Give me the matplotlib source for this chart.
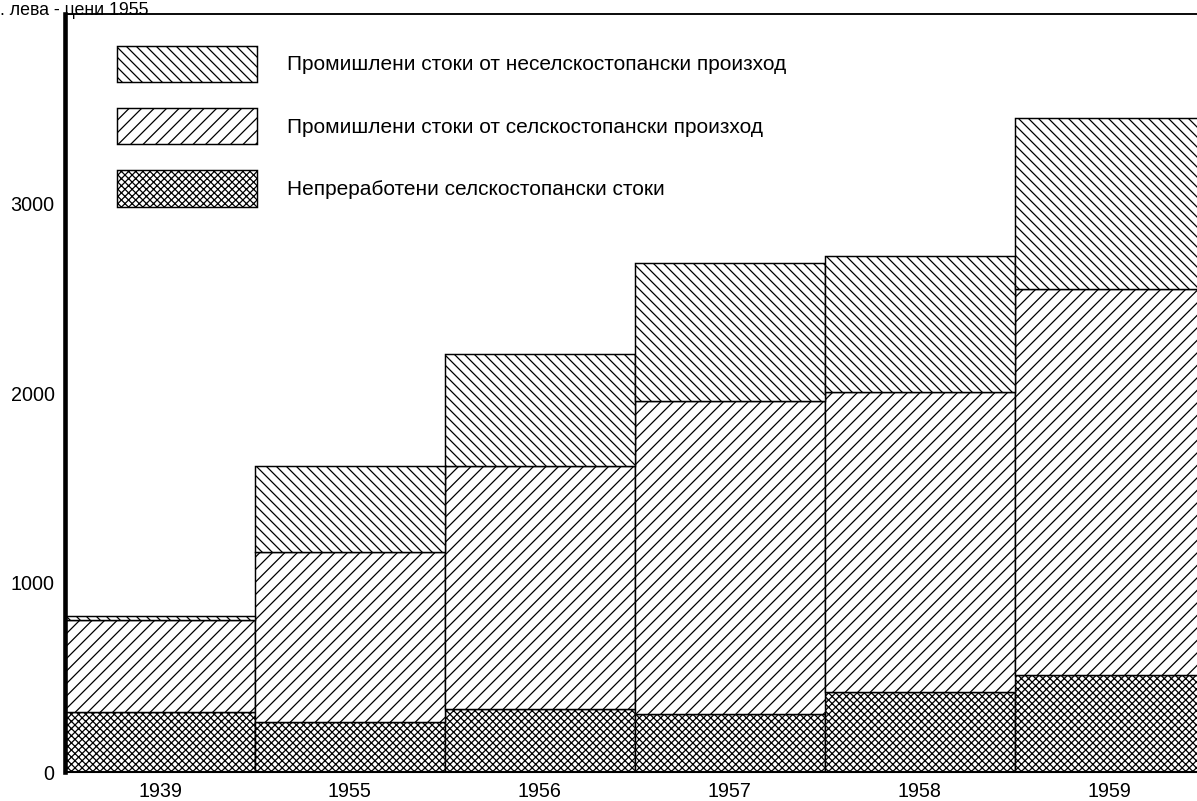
import numpy as np
import matplotlib
matplotlib.use('Agg')
from matplotlib import pyplot as plt

# data (млн. лева, цени 1955)
years = ['1939', '1955', '1956', '1957', '1958', '1959']
raw_agri = [315, 262, 330, 306, 420, 511]          # непреработени селскостопански стоки
ind_agri = [485, 898, 1283, 1651, 1587, 2040]      # промишлени от селскостопански произход
ind_nonagri = [25, 453, 595, 731, 715, 902]        # промишлени от неселскостопански произход

labels = ['Непреработени селскостопански стоки',
          'Промишлени стоки от селскостопански произход',
          'Промишлени стоки от неселскостопански произход']
yticks = [0, 1000, 2000, 3000]

plt.rcParams['font.family'] = ['Liberation Sans', 'DejaVu Sans']
plt.rcParams['hatch.linewidth'] = 0.6
plt.rcParams['hatch.color'] = 'black'

fig = plt.figure(figsize=(7.98, 5.34), dpi=150)
ax = fig.add_axes([0.0543, 0.0362, 0.9457, 0.9463])

x = np.arange(len(years))
b1 = np.array(raw_agri)
b2 = b1 + np.array(ind_agri)

p1 = ax.bar(x, raw_agri, width=1.0, color='white', edgecolor='black',
            linewidth=0.7, hatch='xxxxxxx')
p2 = ax.bar(x, ind_agri, width=1.0, bottom=b1, color='white', edgecolor='black',
            linewidth=0.7, hatch='////')
p3 = ax.bar(x, ind_nonagri, width=1.0, bottom=b2, color='white', edgecolor='black',
            linewidth=0.7, hatch='\\\\\\\\\\')

ax.set_xlim(-0.5, 5.46)
ax.set_ylim(0, 4000)
ax.set_xticks(x)
ax.set_xticklabels(years, fontsize=9.5)
ax.set_yticks(yticks)
ax.set_yticklabels([str(v) for v in yticks], fontsize=9.5)
ax.tick_params(axis='x', length=0, pad=5)
ax.tick_params(axis='y', length=0, pad=5)

ax.spines['left'].set_linewidth(2.2)
ax.spines['bottom'].set_linewidth(1.0)
ax.spines['top'].set_linewidth(0.9)
ax.spines['right'].set_visible(False)

ax.legend([p3, p2, p1], labels[::-1], loc='upper left',
          bbox_to_anchor=(0.046, 0.958), frameon=False, fontsize=10,
          handlelength=6.73, handleheight=2.3, labelspacing=1.25,
          handletextpad=1.45, borderpad=0, borderaxespad=0)

fig.text(0.0, 0.998, '. лева - цени 1955', fontsize=8.5, va='top', ha='left')

fig.savefig('out.png', dpi=150)
